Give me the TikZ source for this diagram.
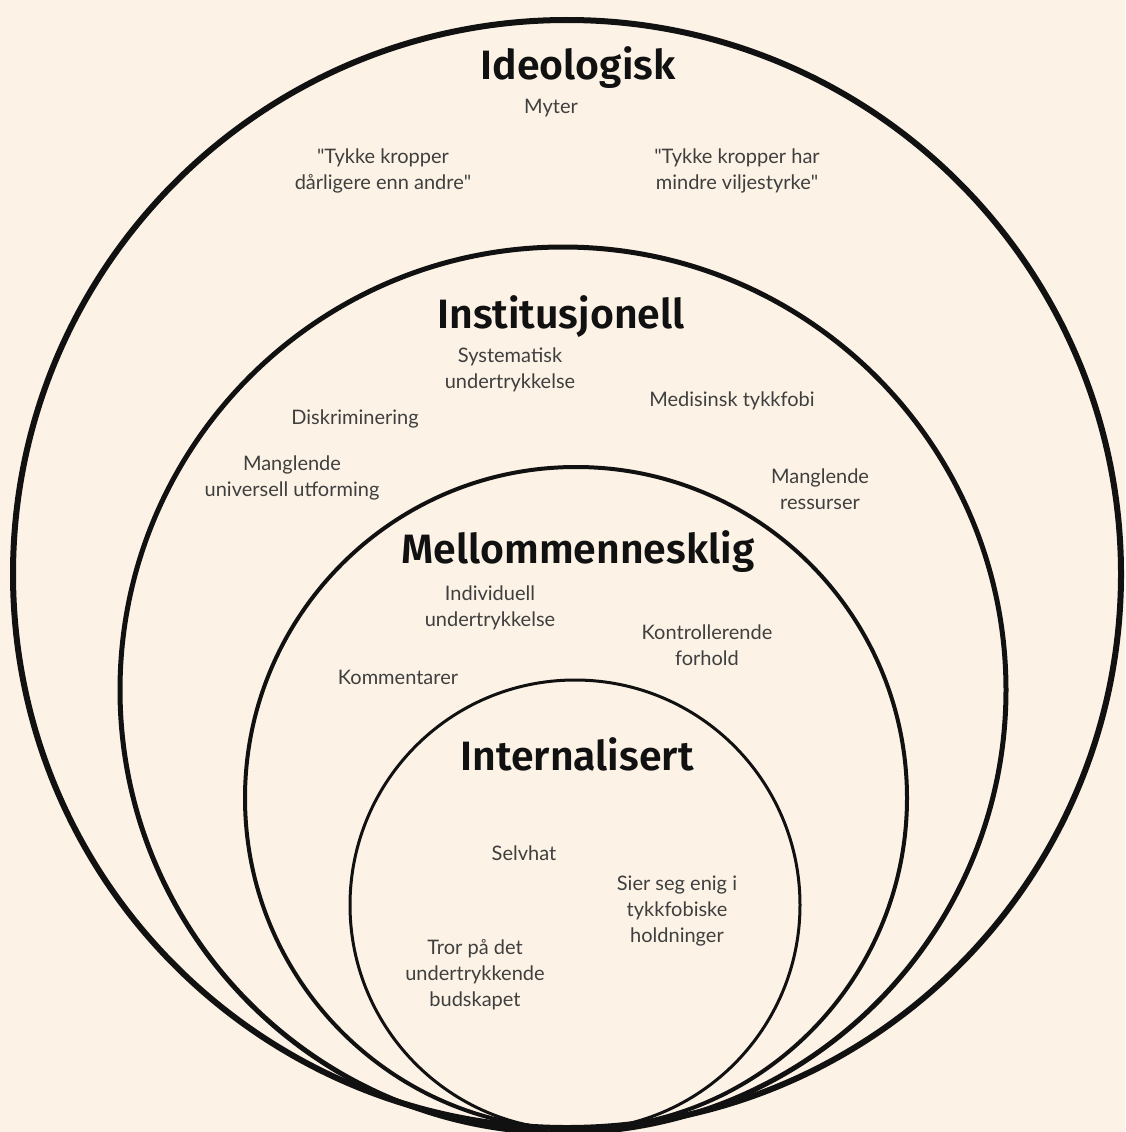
\documentclass[tikz,border=0pt]{standalone}
\usepackage{fontspec}
\setmainfont{Lato}
\newfontfamily\titlefont[BoldFont={Fira Sans SemiBold}]{Fira Sans}

\definecolor{paper}{HTML}{FCF3E6}
\definecolor{ink}{HTML}{111111}
\definecolor{note}{HTML}{3F3F3F}

\tikzset{
  ring/.style={draw=ink},
  level/.style={font=\titlefont\bfseries\fontsize{41}{41}\selectfont, text=ink, anchor=base, inner sep=0pt},
  item/.style={font=\fontsize{20}{26}\selectfont, text=note, align=center, inner sep=0pt},
}

\begin{document}
\begin{tikzpicture}[x=1pt,y=-1pt]
  \fill[paper] (0,0) rectangle (1125,1132);
  \useasboundingbox (0,0) rectangle (1125,1132);

  % rings, all touching at the bottom
  \draw[ring, line width=6pt] (567,574) circle[radius=554pt];
  \draw[ring, line width=5pt] (563,690) circle[radius=443pt];
  \draw[ring, line width=4pt] (576,798) circle[radius=331pt];
  \draw[ring, line width=3pt] (575,905) circle[radius=225pt];

  % ideologisk
  \node[level] (ideo) at (578,79) {Ideologisk};
  \node[item] (myter) at (551,108) {Myter};
  \node[item] (quoteA) at (383,171) {\textquotedbl Tykke kropper\\dårligere enn andre\textquotedbl};
  \node[item] (quoteB) at (737,171) {\textquotedbl Tykke kropper har\\mindre viljestyrke\textquotedbl};

  % institusjonell
  \node[level] (inst) at (561,328) {Institusjonell};
  \node[item] (system) at (510,370) {Systematisk\\undertrykkelse};
  \node[item] (medisin) at (732,401) {Medisinsk tykkfobi};
  \node[item] (diskr) at (355,419) {Diskriminering};
  \node[item] (design) at (292,478) {Manglende\\universell utforming};
  \node[item] (ressurs) at (820,489) {Manglende\\ressurser};

  % mellommenneskelig
  \node[level] (mell) at (578,563) {Mellommennesklig};
  \node[item] (indiv) at (490,608) {Individuell\\undertrykkelse};
  \node[item] (kontroll) at (707,645) {Kontrollerende\\forhold};
  \node[item] (komm) at (398,677) {Kommentarer};

  % internalisert
  \node[level] (intern) at (577,770) {Internalisert};
  \node[item] (selvhat) at (524,853) {Selvhat};
  \node[item] (enig) at (677,911) {Sier seg enig i\\tykkfobiske\\holdninger};
  \node[item] (tror) at (475,975) {Tror på det\\undertrykkende\\budskapet};
\end{tikzpicture}
\end{document}
